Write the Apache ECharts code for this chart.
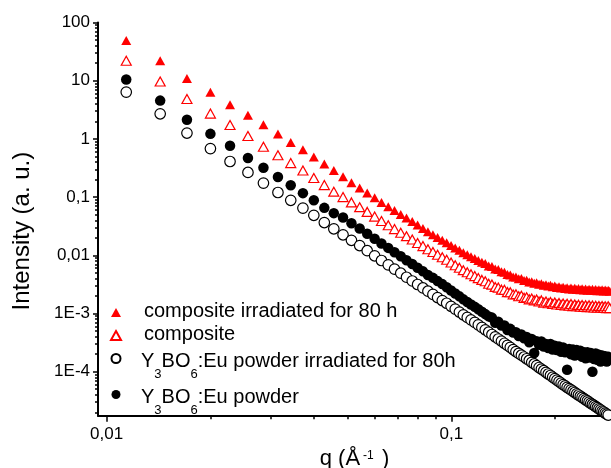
<!DOCTYPE html>
<html>
<head>
<meta charset="utf-8">
<title>Scattering intensity</title>
<script src="https://cdn.jsdelivr.net/npm/echarts@6.0.0/dist/echarts.min.js"></script>
<style>
html,body{margin:0;padding:0;background:#fff;}
#chart{width:611px;height:468px;}
</style>
</head>
<body>
<div id="chart"></div>
<script>
// ---- data ----
const q = [
0.0114,0.0143,0.0171,0.0200,0.0228,0.0257,0.0285,0.0314,0.0342,0.0371,
0.0399,0.0428,0.0456,0.0485,0.0513,0.0542,0.0570,0.0599,0.0627,0.0656,
0.0684,0.0713,0.0741,0.0770,0.0798,0.0827,0.0855,0.0884,0.0912,0.0941,
0.0969,0.0998,0.1026,0.1055,0.1083,0.1112,0.1140,0.1169,0.1197,0.1226,
0.1254,0.1283,0.1311,0.1340,0.1368,0.1397,0.1425,0.1454,0.1482,0.1511,
0.1539,0.1568,0.1596,0.1625,0.1653,0.1682,0.1710,0.1739,0.1767,0.1796,
0.1824,0.1853,0.1881,0.1910,0.1938,0.1967,0.1995,0.2024,0.2052,0.2081,
0.2109,0.2138,0.2166,0.2195,0.2223,0.2252,0.2280,0.2309,0.2337,0.2366,
0.2394,0.2423,0.2451,0.2480,0.2508,0.2537,0.2565,0.2594,0.2622,0.2651,
0.2679,0.2708,0.2736,0.2765,0.2793,0.2822,0.2850,0.2879
];
const compositeIrradiated = [
49,22,10.9,6.32,3.86,2.54,1.75,1.21,0.867,0.65,
0.487,0.369,0.286,0.224,0.177,0.144,0.118,0.097,0.081,0.068,
0.0586,0.0504,0.0437,0.0381,0.0332,0.029,0.0254,0.0226,0.0202,0.0182,
0.0164,0.0148,0.0134,0.0122,0.0111,0.0102,0.00946,0.00878,0.00811,0.00758,
0.00725,0.00655,0.0064,0.0058,0.0057,0.0052,0.0051,0.0047,0.0046,0.00425,
0.00425,0.00395,0.00398,0.00368,0.00372,0.00348,0.00352,0.00332,0.00338,0.00318,
0.00326,0.00306,0.00313,0.00296,0.00305,0.00289,0.00296,0.0028,0.00289,0.00273,
0.00282,0.00268,0.00278,0.00264,0.00275,0.00262,0.00271,0.00259,0.00268,0.00256,
0.00266,0.00254,0.00264,0.00252,0.00262,0.0025,0.0026,0.00249,0.00259,0.00247,
0.00257,0.00246,0.00255,0.00244,0.00254,0.00243,0.00252,0.00242
];
const composite = [
22,9.69,4.85,2.72,1.73,1.12,0.732,0.523,0.384,0.286,
0.213,0.161,0.124,0.1,0.0811,0.0671,0.0557,0.0462,0.0388,0.0329,
0.0282,0.0244,0.0213,0.0187,0.0163,0.0144,0.0127,0.0114,0.0102,0.00924,
0.00837,0.00751,0.00676,0.00612,0.00555,0.00512,0.00473,0.00439,0.00406,0.00378,
0.00358,0.00325,0.00314,0.00286,0.00279,0.00257,0.00255,0.00233,0.00232,0.00212,
0.00215,0.00198,0.00202,0.00186,0.0019,0.00175,0.00181,0.00168,0.00174,0.00161,
0.00168,0.00154,0.00161,0.0015,0.00158,0.00146,0.00155,0.00143,0.00152,0.0014,
0.00149,0.00138,0.00147,0.00136,0.00145,0.00134,0.00143,0.00133,0.00141,0.00131,
0.0014,0.0013,0.00139,0.00129,0.00138,0.00128,0.00137,0.00127,0.00136,0.00126,
0.00135,0.00126,0.00134,0.00125,0.00133,0.00124,0.00133,0.00124
];
const powderIrradiated = [
6.37,2.7,1.26,0.681,0.409,0.265,0.174,0.12,0.0881,0.0647,
0.0487,0.0365,0.0285,0.0225,0.0181,0.0147,0.012,0.0098,0.00814,0.00684,
0.00579,0.00493,0.0042,0.00362,0.00315,0.00275,0.00242,0.00213,0.00188,0.00167,
0.0015,0.00133,0.00119,0.00106,0.00095,0.000857,0.000776,0.000703,0.000637,0.000577,
0.000525,0.000477,0.000436,0.000398,0.000365,0.000336,0.000308,0.000283,0.000262,0.00024,
0.000222,0.000206,0.000192,0.000179,0.000167,0.000156,0.000145,0.000136,0.000127,0.000118,
0.000111,0.000104,0.0000976,0.0000913,0.0000861,0.0000808,0.0000761,0.0000717,0.0000676,0.0000637,
0.00006,0.000057,0.0000539,0.0000512,0.0000487,0.0000462,0.0000439,0.0000417,0.0000398,0.0000379,
0.0000362,0.0000345,0.0000329,0.0000315,0.00003,0.0000286,0.0000274,0.0000263,0.0000251,0.0000241,
0.000023,0.0000221,0.0000211,0.0000203,0.0000194,0.0000187,0.000018,0.0000172
];
const powder = [
10.5,4.55,2.13,1.22,0.761,0.47,0.319,0.222,0.16,0.117,
0.0885,0.0653,0.053,0.0445,0.0356,0.0288,0.0234,0.0192,0.0159,0.0134,
0.0113,0.0096,0.0082,0.0071,0.0061,0.0053,0.0046,0.0041,0.0036,0.0032,
0.00282,0.00248,0.00221,0.00197,0.00175,0.00158,0.00143,0.0013,0.00118,0.00107,
0.000977,0.000892,0.00085,0.000695,0.00072,0.00062,0.000625,0.00052,0.000545,0.00047,
0.000475,0.00041,0.000435,0.000375,0.000395,0.00032,0.000365,0.00021,0.000335,0.00029,
0.00033,0.00027,0.0003,0.000255,0.0003,0.00024,0.00028,0.000235,0.00027,0.00022,
0.00026,0.000215,0.000108,0.000245,0.0002,0.00024,0.00019,0.000235,0.000195,0.00023,
0.00018,0.000215,0.00017,0.000215,0.000175,0.00021,0.0001,0.000165,0.000205,0.00016,
0.000195,0.00015,0.00019,0.00016,0.000185,0.00015,0.00018,0.000165
];
const seriesNames = ['composite irradiated for 80 h', 'composite', 'Y3BO6:Eu powder irradiated for 80h', 'Y3BO6:Eu powder'];
const xTickValues = [0.01, 0.1];
const xTickLabels = ['0,01', '0,1'];
const yTickValues = [100, 10, 1, 0.1, 0.01, 0.001, 0.0001];
const yTickLabels = ['100', '10', '1', '0,1', '0,01', '1E-3', '1E-4'];
const xAxisTitle = 'q (Å';
const xAxisTitleSup = '-1';
const yAxisTitle = 'Intensity (a. u.)';

// ---- axis ranges ----
const X_MIN = 0.00944, X_MAX = 0.2904;
const Y_MIN = 1.754e-5, Y_MAX = 100;

const FONT = '"Liberation Sans", Arial, Helvetica, sans-serif';

function minorTicks(lo, hi) {
  const out = [];
  for (let e = Math.floor(Math.log10(lo)); e <= Math.ceil(Math.log10(hi)); e++) {
    for (let k = 2; k <= 9; k++) {
      const v = +(k * Math.pow(10, e)).toPrecision(4);
      if (v >= lo && v <= hi) out.push(v);
    }
  }
  return out;
}
function labelFor(values, labels) {
  return function (v) {
    for (let i = 0; i < values.length; i++) {
      if (Math.abs(Math.log10(values[i]) - Math.log10(v)) < 1e-6) return labels[i];
    }
    return '';
  };
}
function pairs(arr) { return q.map((x, i) => [x, arr[i]]); }

const chart = echarts.init(document.getElementById('chart'), null, {renderer: 'canvas', width: 611, height: 468});

const axisLineStyle = {color: '#000', width: 2};
const tickStyle = {color: '#000', width: 1.5};

const legendRich = {
  t: {fontFamily: FONT, fontSize: 20, lineHeight: 22, verticalAlign: 'top', padding: [0, 0, 0, 18], color: '#000'},
  tf: {fontFamily: FONT, fontSize: 20, lineHeight: 22, verticalAlign: 'top', padding: [4, 0, 0, 15], color: '#000'},
  tp: {fontFamily: FONT, fontSize: 20, lineHeight: 22, verticalAlign: 'top', padding: [4, 0, 0, 0], color: '#000'},
  s: {fontFamily: FONT, fontSize: 13, lineHeight: 10, verticalAlign: 'top', padding: [20, 0, 0, 0], color: '#000'}
};
function legendText(name) {
  if (name.indexOf('Y3BO6') === 0) {
    return '{tf|Y}{s|3}{tp|BO}{s|6}{tp|' + name.slice(5) + '}';
  }
  return '{t|' + name + '}';
}

const option = {
  animation: false,
  backgroundColor: '#fff',
  textStyle: {fontFamily: FONT, color: '#000'},
  grid: {left: 98, right: 0, top: 22.5, bottom: 52.3, containLabel: false, outerBoundsMode: 'none'},
  legend: {
    show: true,
    orient: 'vertical',
    left: 110,
    top: 301.5,
    padding: 0,
    itemGap: 3,
    itemWidth: 10,
    itemHeight: 9,
    symbolKeepAspect: true,
    selectedMode: false,
    data: seriesNames,
    formatter: legendText,
    textStyle: {fontFamily: FONT, fontSize: 20, color: '#000', rich: legendRich}
  },
  xAxis: [
    {
      type: 'log', logBase: 10, min: X_MIN, max: X_MAX, position: 'bottom',
      name: '{a|' + xAxisTitle + '}{s|' + xAxisTitleSup + '}{a| )}',
      nameLocation: 'middle', nameGap: 27,
      nameTextStyle: {
        rich: {
          a: {fontFamily: FONT, fontSize: 22, lineHeight: 26, verticalAlign: 'top', color: '#000'},
          s: {fontFamily: FONT, fontSize: 12, lineHeight: 12, verticalAlign: 'top', padding: [2, 2, 0, 3], color: '#000'}
        }
      },
      axisLine: {show: true, onZero: false, lineStyle: axisLineStyle},
      axisTick: {show: true, inside: false, length: 6, customValues: xTickValues, lineStyle: tickStyle},
      minorTick: {show: false},
      axisLabel: {show: true, customValues: xTickValues, formatter: labelFor(xTickValues, xTickLabels), fontFamily: FONT, fontSize: 17, color: '#000', margin: 10},
      splitLine: {show: false}
    },
    {
      type: 'log', logBase: 10, min: X_MIN, max: X_MAX, position: 'bottom', offset: 0,
      axisLine: {show: false, onZero: false},
      axisTick: {show: true, inside: false, length: 3.5, customValues: minorTicks(X_MIN, X_MAX), lineStyle: tickStyle},
      axisLabel: {show: false},
      splitLine: {show: false}
    }
  ],
  yAxis: [
    {
      type: 'log', logBase: 10, min: Y_MIN, max: Y_MAX, position: 'left',
      name: yAxisTitle, nameLocation: 'middle', nameGap: 64,
      nameTextStyle: {fontFamily: FONT, fontSize: 24, color: '#000', padding: [0, 24, 0, 0]},
      axisLine: {show: true, onZero: false, lineStyle: axisLineStyle},
      axisTick: {show: true, inside: false, length: 5, customValues: yTickValues, lineStyle: tickStyle},
      axisLabel: {show: true, customValues: yTickValues, formatter: labelFor(yTickValues, yTickLabels), fontFamily: FONT, fontSize: 17, color: '#000', margin: 8},
      splitLine: {show: false}
    },
    {
      type: 'log', logBase: 10, min: Y_MIN, max: Y_MAX, position: 'left', offset: 0,
      axisLine: {show: false, onZero: false},
      axisTick: {show: true, inside: false, length: 3, customValues: minorTicks(Y_MIN, Y_MAX), lineStyle: tickStyle},
      axisLabel: {show: false},
      splitLine: {show: false}
    }
  ],
  series: [
    {
      name: seriesNames[0], type: 'scatter', xAxisIndex: 0, yAxisIndex: 0,
      symbol: 'triangle', symbolSize: [10, 9],
      itemStyle: {color: '#ff0000', borderWidth: 0, opacity: 1},
      data: pairs(compositeIrradiated)
    },
    {
      name: seriesNames[1], type: 'scatter', xAxisIndex: 0, yAxisIndex: 0,
      symbol: 'triangle', symbolSize: [10, 9],
      itemStyle: {color: '#ffffff', borderColor: '#ff0000', borderWidth: 1.2, opacity: 1},
      data: pairs(composite)
    },
    {
      name: seriesNames[2], type: 'scatter', xAxisIndex: 0, yAxisIndex: 0,
      symbol: 'circle', symbolSize: 10.5,
      itemStyle: {color: '#ffffff', borderColor: '#000000', borderWidth: 1.2, opacity: 1},
      data: pairs(powderIrradiated)
    },
    {
      name: seriesNames[3], type: 'scatter', xAxisIndex: 0, yAxisIndex: 0,
      symbol: 'circle', symbolSize: 10.5,
      itemStyle: {color: '#000000', borderWidth: 0, opacity: 1},
      data: pairs(powder)
    }
  ]
};
chart.setOption(option);
</script>
</body>
</html>
